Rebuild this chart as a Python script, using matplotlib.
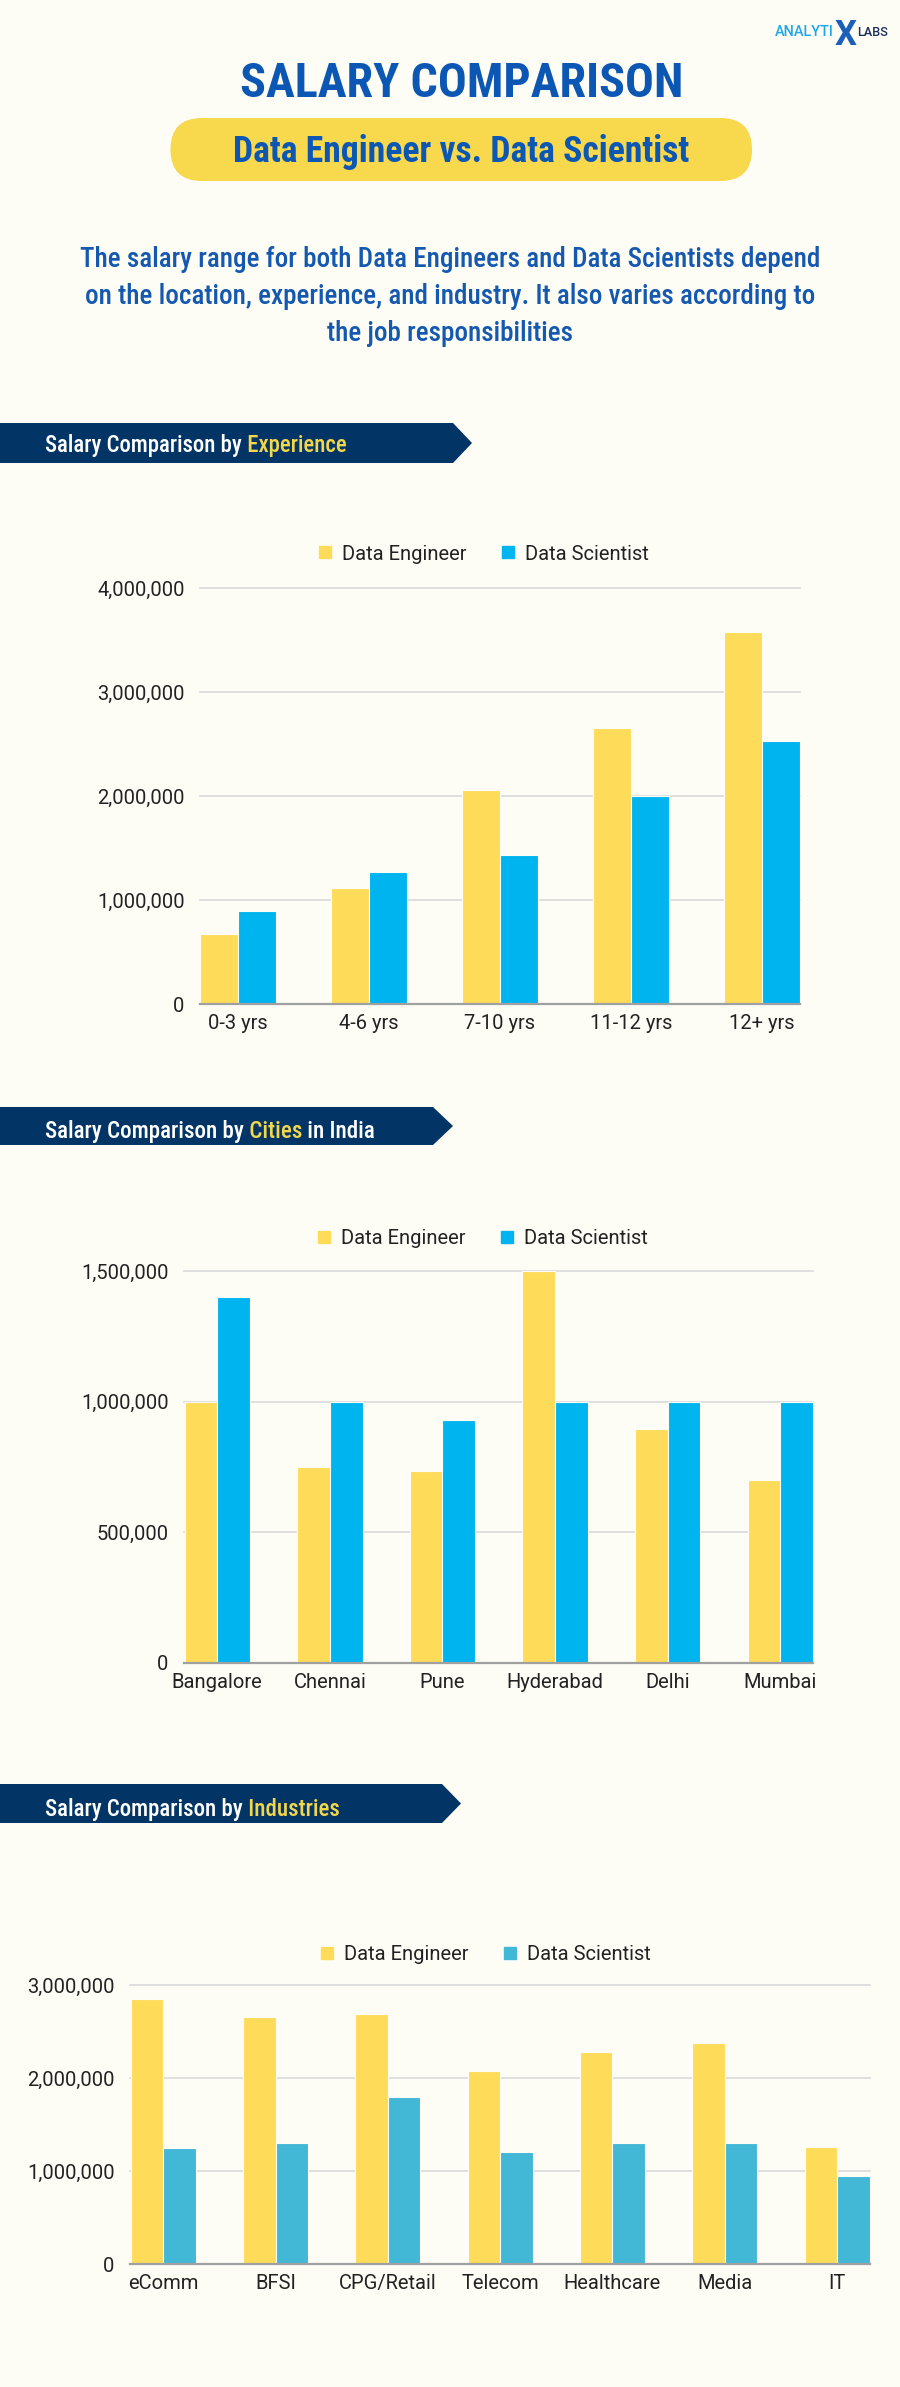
import matplotlib
matplotlib.use('Agg')
import matplotlib.pyplot as plt
from matplotlib import font_manager
from matplotlib.patches import Polygon, FancyBboxPatch
from matplotlib.lines import Line2D
from matplotlib.ticker import FuncFormatter
import numpy as np

# ---------------- data ----------------
exp_labels = ['0-3 yrs', '4-6 yrs', '7-10 yrs', '11-12 yrs', '12+ yrs']
exp_de = [670000, 1120000, 2060000, 2650000, 3580000]
exp_ds = [890000, 1270000, 1430000, 2000000, 2530000]
exp_ticks = [0, 1000000, 2000000, 3000000, 4000000]

city_labels = ['Bangalore', 'Chennai', 'Pune', 'Hyderabad', 'Delhi', 'Mumbai']
city_de = [1000000, 750000, 735000, 1500000, 895000, 700000]
city_ds = [1400000, 1000000, 930000, 1000000, 1000000, 1000000]
city_ticks = [0, 500000, 1000000, 1500000]

ind_labels = ['eComm', 'BFSI', 'CPG/Retail', 'Telecom', 'Healthcare', 'Media', 'IT']
ind_de = [2850000, 2660000, 2690000, 2070000, 2280000, 2380000, 1260000]
ind_ds = [1250000, 1300000, 1800000, 1200000, 1300000, 1300000, 950000]
ind_ticks = [0, 1000000, 2000000, 3000000]

series_names = ['Data Engineer', 'Data Scientist']

# ---------------- style ----------------
W, H = 900, 2387
BG = '#FDFDF6'
DE_COLOR = '#FEDC5A'
DS_COLOR = '#00B4F0'
DS_COLOR_IND = '#43B7D6'
NAVY = '#033466'
BLUE = '#0C57B3'
PILL = '#F8D84C'
HILITE = '#F2D64B'
TXT = '#222222'

names = {f.name for f in font_manager.fontManager.ttflist}
COND = next((n for n in ['Roboto Condensed', 'Liberation Sans Narrow', 'Roboto'] if n in names), 'DejaVu Sans')
REG = 'Roboto' if 'Roboto' in names else 'DejaVu Sans'
plt.rcParams['font.family'] = [REG, 'DejaVu Sans']

fig = plt.figure(figsize=(W / 100, H / 100), dpi=100, facecolor=BG)
bg = fig.add_axes([0, 0, 1, 1], zorder=0)
bg.set_xlim(0, W)
bg.set_ylim(H, 0)
bg.axis('off')
bg.set_facecolor(BG)
renderer = fig.canvas.get_renderer()


def fit(t, target_w):
    w = t.get_window_extent(renderer).width
    t.set_fontsize(t.get_fontsize() * target_w / w)
    return t


# ---------------- header ----------------
# logo
t1 = bg.text(775, 36, 'ANALYTI', family=[REG, 'DejaVu Sans'], weight='medium', color='#1EA7E8',
             fontsize=10, ha='left', va='baseline')
fit(t1, 59)
t2 = bg.text(846, 45, 'X', family=[REG, 'DejaVu Sans'], weight='bold', color='#1B5FB8',
             fontsize=20, ha='center', va='baseline')
fit(t2, 22)
t3 = bg.text(857, 36, 'LABS', family=[REG, 'DejaVu Sans'], weight='medium', color='#1C2E5A',
             fontsize=9, ha='left', va='baseline')
fit(t3, 31)

title = bg.text(461.5, 97, 'SALARY COMPARISON', family=[COND, 'DejaVu Sans'], weight='bold',
                color=BLUE, fontsize=30, ha='center', va='baseline')
fit(title, 443)

pill = FancyBboxPatch((170.5, 118), 581.5, 63, boxstyle='round,pad=0,rounding_size=31.5',
                      facecolor=PILL, edgecolor='none')
bg.add_patch(pill)
sub = bg.text(461.5, 162, 'Data Engineer vs. Data Scientist', family=[COND, 'DejaVu Sans'],
              weight='bold', color=BLUE, fontsize=24, ha='center', va='baseline')
fit(sub, 458)

para = ['The salary range for both Data Engineers and Data Scientists depend',
        'on the location, experience, and industry. It also varies according to',
        'the job responsibilities']
p0 = bg.text(450, 267, para[0], family=[COND, 'DejaVu Sans'], weight='medium', color='#1558B0',
             fontsize=16, ha='center', va='baseline')
fit(p0, 742)
pfs = p0.get_fontsize()
for i, line in enumerate(para[1:], start=1):
    bg.text(450, 267 + 37 * i, line, family=[COND, 'DejaVu Sans'], weight='medium', color='#1558B0',
            fontsize=pfs, ha='center', va='baseline')


# ---------------- banners ----------------
def banner(y0, y1, x_end, x_tip, parts, baseline, target_w):
    poly = Polygon([(0, y0), (x_end, y0), (x_tip, (y0 + y1) / 2), (x_end, y1), (0, y1)],
                   closed=True, facecolor=NAVY, edgecolor='none')
    bg.add_patch(poly)
    full = ''.join(p for p, c in parts)
    t = bg.text(45, baseline, full, fontsize=14, family=[COND, 'DejaVu Sans'], weight='medium')
    fs = 14 * target_w / t.get_window_extent(renderer).width
    t.remove()
    x = 45
    for s, c in parts:
        tt = bg.text(x, baseline, s, fontsize=fs, family=[COND, 'DejaVu Sans'], weight='medium',
                     color=c, ha='left', va='baseline')
        x += tt.get_window_extent(renderer).width


banner(423, 463, 453, 472, [('Salary Comparison by', 'white'), (' Experience', HILITE)], 452, 303)
banner(1107, 1145, 433, 453, [('Salary Comparison by', 'white'), (' Cities', HILITE),
                              (' in India', 'white')], 1138, 331)
banner(1784, 1823, 442, 461, [('Salary Comparison by', 'white'), (' Industries', HILITE)], 1816, 296)


# ---------------- charts ----------------
def chart(rect_px, labels, de, ds, ds_color, ticks, xlim, legend_center):
    left, right, top, bottom = rect_px
    ax = fig.add_axes([left / W, 1 - bottom / H, (right - left) / W, (bottom - top) / H], zorder=2)
    ax.set_facecolor('none')
    x = np.arange(len(labels))
    w = 0.29
    ax.bar(x - w / 2, de, w, color=DE_COLOR, edgecolor=BG, linewidth=0.8, zorder=3)
    ax.bar(x + w / 2, ds, w, color=ds_color, edgecolor=BG, linewidth=0.8, zorder=3)
    ax.set_xlim(*xlim)
    ax.set_ylim(0, ticks[-1])
    ax.set_yticks(ticks)
    ax.yaxis.set_major_formatter(FuncFormatter(lambda v, p: f'{int(v):,}'))
    ax.set_xticks(x)
    ax.set_xticklabels(labels)
    ax.tick_params(length=0, labelsize=14.5, colors=TXT)
    ax.tick_params(axis='y', pad=11)
    ax.tick_params(axis='x', pad=7)
    for s in ax.spines.values():
        s.set_visible(False)
    for tv in ticks[1:]:
        ax.axhline(tv, color='#DADADA', lw=1.2, zorder=1, clip_on=False)
    ax.axhline(0, color='#A0A0A0', lw=1.6, zorder=4, clip_on=False)
    handles = [Line2D([], [], marker='s', ls='none', color=DE_COLOR, markersize=8),
               Line2D([], [], marker='s', ls='none', color=ds_color, markersize=8)]
    ax.legend(handles, series_names, loc='center',
              bbox_to_anchor=(legend_center[0] / W, 1 - legend_center[1] / H),
              bbox_transform=fig.transFigure, ncol=2, frameon=False, fontsize=14.5,
              handlelength=0.7, handletextpad=0.5, columnspacing=1.7, labelcolor=TXT)
    return ax


chart((200, 800, 588, 1004), exp_labels, exp_de, exp_ds, DS_COLOR, exp_ticks,
      (-0.29, 4.29), (483, 554))
chart((184, 813, 1271, 1663), city_labels, city_de, city_ds, DS_COLOR, city_ticks,
      (-0.295, 5.29), (482, 1239))
chart((130, 870, 1985, 2264), ind_labels, ind_de, ind_ds, DS_COLOR_IND, ind_ticks,
      (-0.296, 6.293), (485, 1955))

fig.savefig('out.png', dpi=100, facecolor=BG)
